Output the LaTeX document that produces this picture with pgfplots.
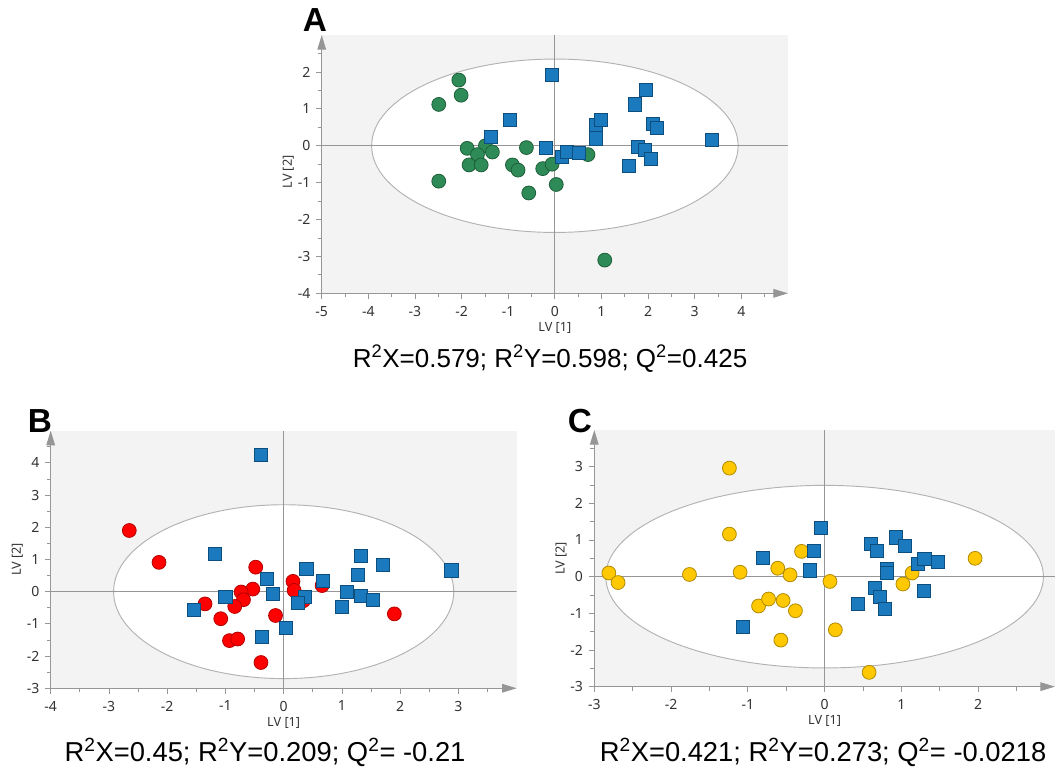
\documentclass[border=0pt]{standalone}
\usepackage{fontspec}
\setmainfont{Noto Sans}
\newfontfamily\arialfont{Liberation Sans}
\usepackage{pgfplots}
\pgfplotsset{compat=1.18}
\usetikzlibrary{arrows.meta}
\definecolor{bgc}{RGB}{243,243,243}
\definecolor{gfill}{RGB}{46,139,87}
\definecolor{gedge}{RGB}{30,95,58}
\definecolor{bfill}{RGB}{27,122,190}
\definecolor{bedge}{RGB}{12,78,125}
\definecolor{rfill}{RGB}{255,0,0}
\definecolor{redge}{RGB}{180,0,0}
\definecolor{yfill}{RGB}{255,200,0}
\definecolor{yedge}{RGB}{176,138,0}
\definecolor{axc}{RGB}{150,150,150}
\pgfplotsset{
  lvstyle/.style={
    scale only axis, anchor=south west,
    axis lines=left,
    axis line style={draw=axc, line width=0.8pt, -{Triangle[length=11pt,width=6.5pt]}},
    axis background/.style={fill=bgc},
    tick align=outside,
    major tick length=4pt, minor tick length=3pt,
    every tick/.style={axc, line width=0.6pt},
    tick label style={font=\fontsize{10.5}{12}\selectfont, text=black!80},
    xticklabel style={yshift=-2pt},
    yticklabel style={xshift=-1pt},
    /pgf/number format/assume math mode=true,
    label style={font=\fontsize{9.5}{11}\selectfont, text=black!80},
    xlabel={LV [1]}, ylabel={LV [2]},
    x label style={at={([yshift=-26pt]axis description cs:0.5,0)}, anchor=center},
    y label style={at={([xshift=-25pt]axis description cs:0,0.5)}, anchor=center, rotate=0},
  },
  circ/.style={only marks, mark=*, mark size=5.2pt, mark options={fill=#1fill, draw=#1edge, line width=0.6pt}},
  sq/.style={only marks, mark=square*, mark size=4.9pt, mark options={fill=bfill, draw=bedge, line width=0.6pt}},
}
\begin{document}
\begin{tikzpicture}
\useasboundingbox (0,0) rectangle (793.5pt,580.5pt);
% Panel A
\begin{axis}[lvstyle, at={(241.3pt,360.5pt)}, width=349.7pt, height=193.7pt,
  xmin=-5, xmax=5, ymin=-4, ymax=3,
  xtick={-5,...,4}, ytick={-4,...,2},
  minor xtick={-4.5,-3.5,...,4.5}, minor ytick={-3.5,-2.5,...,2.5},
  y label style={at={([xshift=-25pt]axis description cs:0,0.47)}}]
\draw[gray!60, fill=white, line width=0.7pt] (axis cs:0,0) ellipse [x radius=3.93, y radius=2.35];
\draw[axc, line width=0.8pt] (axis cs:0,-4) -- (axis cs:0,3);
\draw[axc, line width=0.8pt] (axis cs:-5,0) -- (axis cs:5,0);
\addplot[circ=g] coordinates {
(-2.06,1.78) (-2.01,1.37) (-2.49,1.12) (-2.49,-0.96) (-1.88,-0.07) (-1.49,0.0)
(-1.66,-0.24) (-1.34,-0.17) (-1.84,-0.52) (-1.58,-0.52) (-0.91,-0.52) (-0.79,-0.66)
(-0.61,-0.05) (-0.56,-1.28) (-0.26,-0.62) (-0.06,-0.50) (0.03,-1.05) (0.71,-0.24) (1.07,-3.10)};
\addplot[sq] coordinates {
(-0.06,1.92) (-0.96,0.71) (-1.37,0.24) (-0.20,-0.05) (0.16,-0.30) (0.26,-0.16)
(0.52,-0.19) (0.87,0.20) (0.87,0.56) (0.98,0.71) (1.71,1.12) (1.96,1.51)
(2.11,0.58) (2.18,0.49) (1.59,-0.54) (1.79,-0.03) (1.93,-0.12) (2.05,-0.36) (3.37,0.15)};
\end{axis}
% Panel B
\begin{axis}[lvstyle, at={(38.0pt,64.3pt)}, width=349.5pt, height=193.2pt,
  xmin=-4, xmax=4, ymin=-3, ymax=5,
  xtick={-4,...,3}, ytick={-3,...,4},
  minor xtick={-3.5,-2.5,...,3.5}, minor ytick={-2.5,-1.5,...,4.5}]
\draw[gray!60, fill=white, line width=0.7pt] (axis cs:0,0) ellipse [x radius=2.92, y radius=2.70];
\draw[axc, line width=0.8pt] (axis cs:0,-3) -- (axis cs:0,5);
\draw[axc, line width=0.8pt] (axis cs:-4,0) -- (axis cs:4,0);
\addplot[circ=r] coordinates {
(-2.65,1.90) (-2.14,0.91) (-0.48,0.76) (-0.53,0.08) (-0.73,-0.01) (-0.69,-0.25)
(-0.84,-0.46) (-1.35,-0.38) (-1.08,-0.84) (-0.93,-1.52) (-0.79,-1.47) (-0.39,-2.20)
(-0.14,-0.74) (0.16,0.32) (0.18,0.04) (0.34,-0.28) (0.66,0.19) (1.90,-0.69)};
\addplot[sq] coordinates {
(-0.39,4.24) (-1.18,1.17) (-1.54,-0.56) (-1.00,-0.15) (-0.28,0.40) (-0.19,-0.08)
(-0.37,-1.41) (0.04,-1.12) (0.39,0.71) (0.36,-0.15) (0.25,-0.34) (0.67,0.34)
(1.32,1.10) (1.27,0.51) (1.70,0.84) (1.09,-0.01) (1.00,-0.46) (1.33,-0.13) (1.53,-0.25) (2.88,0.66)};
\end{axis}
% Panel C
\begin{axis}[lvstyle, at={(445.7pt,65.5pt)}, width=345.5pt, height=192.5pt,
  xmin=-3, xmax=3, ymin=-3, ymax=4,
  xtick={-3,...,2}, ytick={-3,...,3},
  minor xtick={-2.5,-1.5,...,2.5}, minor ytick={-2.5,-1.5,...,3.5}]
\draw[gray!60, fill=white, line width=0.7pt] (axis cs:0,0) ellipse [x radius=2.85, y radius=2.49];
\draw[axc, line width=0.8pt] (axis cs:0,-3) -- (axis cs:0,4);
\draw[axc, line width=0.8pt] (axis cs:-3,0) -- (axis cs:3,0);
\addplot[circ=y] coordinates {
(-2.81,0.10) (-2.69,-0.16) (-1.76,0.06) (-1.24,2.96) (-1.24,1.16) (-1.10,0.12)
(-0.61,0.23) (-0.45,0.05) (-0.30,0.69) (-0.86,-0.80) (-0.73,-0.61) (-0.54,-0.65)
(-0.38,-0.93) (-0.57,-1.73) (0.07,-0.13) (0.14,-1.45) (0.58,-2.61) (1.02,-0.20) (1.14,0.10) (1.96,0.50)};
\addplot[sq] coordinates {
(-0.05,1.34) (-0.14,0.71) (-0.19,0.17) (-0.80,0.50) (-1.07,-1.36) (0.60,0.90)
(0.68,0.71) (0.93,1.07) (1.05,0.84) (0.81,0.20) (0.81,0.11) (0.65,-0.31)
(0.72,-0.54) (0.79,-0.87) (0.43,-0.75) (1.21,0.35) (1.30,0.49) (1.47,0.39) (1.29,-0.39)};
\end{axis}
% panel letters
\node[font=\arialfont\bfseries\fontsize{25}{27}\selectfont] at (236.25pt,565.5pt) {A};
\node[font=\arialfont\bfseries\fontsize{25}{27}\selectfont] at (30pt,264.75pt) {B};
\node[font=\arialfont\bfseries\fontsize{25}{27}\selectfont] at (435pt,264.75pt) {C};
% statistics
\node[font=\arialfont\fontsize{19.5}{22}\selectfont] at (412.5pt,311.25pt) {R\textsuperscript{2}X=0.579; R\textsuperscript{2}Y=0.598; Q\textsuperscript{2}=0.425};
\node[font=\arialfont\fontsize{20.5}{22}\selectfont] at (198.75pt,16.5pt) {R\textsuperscript{2}X=0.45; R\textsuperscript{2}Y=0.209; Q\textsuperscript{2}= -0.21};
\node[font=\arialfont\fontsize{20.5}{22}\selectfont] at (617.25pt,16.5pt) {R\textsuperscript{2}X=0.421; R\textsuperscript{2}Y=0.273; Q\textsuperscript{2}= -0.0218};
\end{tikzpicture}
\end{document}
